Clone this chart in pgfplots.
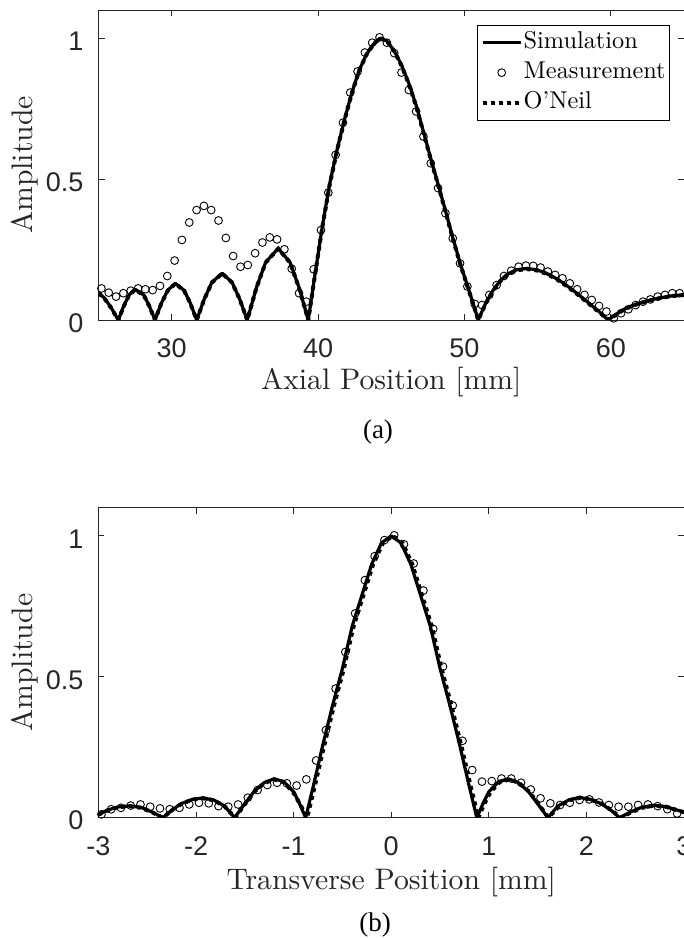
\documentclass[border=0pt]{standalone}
\usepackage{fontspec}
\setmainfont{lmroman10-regular.otf}
\usepackage{pgfplots}
\pgfplotsset{compat=1.18}
\newfontfamily\arialfont{Liberation Sans}
\newfontfamily\timesfont{Liberation Serif}
\definecolor{axgray}{gray}{0.15}
\pgfplotsset{
 myax/.style={
  scale only axis, width=585.5pt, height=310pt,
  ymin=0, ymax=1.1, ytick={0,0.5,1}, yticklabels={0,0.5,1},
  axis line style={draw=axgray, line width=0.9pt},
  tick style={draw=axgray, line width=0.9pt},
  major tick length=6pt, tick align=inside,
  xtick pos=both, ytick pos=both,
  xticklabel style={font=\arialfont\fontsize{27}{27}\selectfont, text=axgray, anchor=base, inner sep=0pt, yshift=-38pt},
  yticklabel style={font=\arialfont\fontsize{27}{27}\selectfont, text=axgray, anchor=east, inner sep=0pt, xshift=-15pt, yshift=-3pt},
  label style={font=\fontsize{29.7}{30}\selectfont, text=axgray},
  ylabel style={at={(axis description cs:-0.112,0.5)}, anchor=base},
  clip mode=individual,
 },
 simline/.style={black, line width=3.2pt, line join=round,
   legend image code/.code={\draw[##1] (0pt,0pt) -- (38pt,0pt);}},
 oneil/.style={black, line width=4pt, dash pattern=on 4pt off 4pt,
   legend image code/.code={\draw[##1] (0pt,0pt) -- (38pt,0pt);}},
 meas/.style={only marks, mark=o, mark size=3.9pt, black, line width=0.9pt,
   legend image code/.code={\draw[mark repeat=2, mark phase=2, ##1] plot coordinates {(0pt,0pt) (19pt,0pt) (38pt,0pt)};}},
}
\begin{document}
\begin{tikzpicture}
% ---------------- (a) axial ----------------
\begin{axis}[myax, at={(98.5pt,618pt)}, anchor=south west,
  xmin=25, xmax=65, xtick={30,40,50,60}, xticklabels={30,40,50,60},
  xlabel={Axial Position [mm]}, ylabel={Amplitude},
  xlabel style={at={(axis description cs:0.5,-0.2235)}, anchor=base},
  legend style={at={(axis description cs:0.976,0.952)}, anchor=north east,
    draw=black, line width=0.6pt, fill=white,
    font=\fontsize{24.3}{29}\selectfont, inner xsep=3pt, inner ysep=2.5pt,
    row sep=0pt, column sep=0pt, cells={anchor=west},
    nodes={inner xsep=1pt, inner ysep=3.5pt, text height=17pt, text depth=6pt}},
  legend cell align=left]
\addplot[simline] coordinates {
(25,0.097) (25.4,0.078) (25.85,0.045) (26.35,0) (26.72,0.049) (27.08,0.088) (27.5,0.109) (28.1,0.088) (28.48,0.049) (28.86,0)
(29.29,0.059) (29.72,0.105) (30.25,0.13) (30.85,0.105) (31.28,0.059) (31.71,0) (32.23,0.075) (32.75,0.134) (33.45,0.166) (34.12,0.134)
(34.64,0.075) (35.16,0) (35.79,0.115) (36.42,0.205) (37.28,0.254) (38.08,0.205) (38.7,0.115) (39.33,0) (39.8,0.165) (40.3,0.335)
(40.8,0.485) (41.3,0.605) (41.8,0.71) (42.3,0.805) (42.8,0.885) (43.3,0.942) (43.8,0.98) (44.23,1.0) (44.7,0.99) (45.2,0.955)
(45.7,0.905) (46.2,0.84) (46.7,0.762) (47.2,0.668) (47.7,0.573) (48.2,0.482) (48.7,0.388) (49.2,0.293) (49.7,0.203) (50.2,0.122)
(50.6,0.058) (50.94,0) (51.45,0.06) (51.95,0.105) (52.45,0.14) (52.95,0.163) (53.55,0.178) (54.25,0.183) (54.95,0.178) (55.65,0.165)
(56.35,0.145) (57.05,0.12) (57.75,0.092) (58.45,0.062) (59.15,0.032) (59.82,0) (60.3,0.018) (60.9,0.038) (61.5,0.052) (62.1,0.062)
(62.8,0.072) (63.5,0.08) (64.2,0.086) (65,0.09)};
\addlegendentry{Simulation}
\addplot[meas] coordinates {
(25.2,0.112) (25.7,0.097) (26.2,0.083) (26.7,0.095) (27.2,0.104) (27.7,0.112) (28.2,0.109) (28.7,0.106) (29.2,0.121) (29.7,0.156)
(30.2,0.211) (30.7,0.284) (31.2,0.346) (31.7,0.390) (32.2,0.405) (32.7,0.390) (33.2,0.353) (33.7,0.291) (34.2,0.227) (34.7,0.189)
(35.2,0.195) (35.7,0.237) (36.2,0.275) (36.7,0.293) (37.2,0.286) (37.7,0.251) (38.2,0.182) (38.7,0.095) (39.2,0.065) (39.7,0.180)
(40.2,0.319) (40.7,0.452) (41.2,0.586) (41.7,0.700) (42.2,0.807) (42.7,0.882) (43.2,0.949) (43.7,0.984) (44.2,1.003) (44.7,0.984)
(45.2,0.947) (45.7,0.878) (46.2,0.816) (46.7,0.740) (47.2,0.651) (47.7,0.556) (48.2,0.468) (48.7,0.379) (49.2,0.290) (49.7,0.201)
(50.2,0.119) (50.7,0.057) (51.2,0.053) (51.7,0.089) (52.2,0.124) (52.7,0.156) (53.2,0.175) (53.7,0.189) (54.2,0.193) (54.7,0.192)
(55.2,0.186) (55.7,0.172) (56.2,0.160) (56.7,0.148) (57.2,0.130) (57.7,0.109) (58.2,0.089) (58.7,0.071) (59.2,0.050) (59.7,0.030)
(60.2,0.006) (60.7,0.024) (61.2,0.038) (61.7,0.053) (62.2,0.065) (62.7,0.073) (63.2,0.083) (63.7,0.089) (64.2,0.095) (64.7,0.095)};
\addlegendentry{Measurement}
\addplot[oneil] coordinates {
(25,0.095) (25.4,0.077) (25.85,0.044) (26.35,0) (26.72,0.048) (27.08,0.087) (27.5,0.108) (28.1,0.087) (28.48,0.048) (28.86,0)
(29.29,0.058) (29.72,0.104) (30.25,0.129) (30.85,0.104) (31.28,0.058) (31.71,0) (32.23,0.074) (32.75,0.133) (33.45,0.165) (34.12,0.133)
(34.64,0.074) (35.16,0) (35.79,0.114) (36.42,0.204) (37.28,0.253) (38.08,0.204) (38.7,0.114) (39.33,0) (39.8,0.163) (40.3,0.332)
(40.8,0.482) (41.3,0.602) (41.8,0.708) (42.3,0.803) (42.8,0.884) (43.3,0.941) (43.8,0.979) (44.23,1.0) (44.7,0.99) (45.2,0.954)
(45.7,0.903) (46.2,0.837) (46.7,0.759) (47.2,0.665) (47.7,0.57) (48.2,0.479) (48.7,0.385) (49.2,0.29) (49.7,0.2) (50.2,0.12)
(50.6,0.056) (50.94,0) (51.45,0.058) (51.95,0.103) (52.45,0.138) (52.95,0.161) (53.55,0.176) (54.25,0.181) (54.95,0.176) (55.65,0.163)
(56.35,0.143) (57.05,0.118) (57.75,0.09) (58.45,0.06) (59.15,0.03) (59.82,0) (60.3,0.017) (60.9,0.037) (61.5,0.051) (62.1,0.061)
(62.8,0.071) (63.5,0.079) (64.2,0.085) (65,0.089)};
\addlegendentry{O'Neil}
\end{axis}
% ---------------- (b) transverse ----------------
\begin{axis}[myax, at={(98.5pt,120.3pt)}, anchor=south west,
  xmin=-3, xmax=3, xtick={-3,-2,-1,0,1,2,3}, xticklabels={-3,-2,-1,0,1,2,3},
  xlabel={Transverse Position [mm]}, ylabel={Amplitude},
  xlabel style={at={(axis description cs:0.5,-0.233)}, anchor=base}]
\addplot[simline] coordinates {
(-3,0.012) (-2.9,0.028) (-2.8,0.038) (-2.68,0.042) (-2.56,0.036) (-2.45,0.02) (-2.34,0) (-2.25,0.027) (-2.15,0.05) (-2.04,0.065)
(-1.93,0.07) (-1.82,0.063) (-1.71,0.042) (-1.605,0) (-1.5,0.05) (-1.4,0.095) (-1.3,0.125) (-1.2,0.138) (-1.1,0.128) (-1.0,0.092)
(-0.94,0.05) (-0.877,0) (-0.8,0.11) (-0.7,0.26) (-0.6,0.4) (-0.5,0.53) (-0.4,0.68) (-0.3,0.79) (-0.2,0.9) (-0.1,0.975)
(0,1) (0.1,0.975) (0.2,0.9) (0.3,0.79) (0.4,0.68) (0.5,0.53) (0.6,0.4) (0.7,0.26) (0.8,0.11) (0.877,0)
(0.94,0.05) (1.0,0.092) (1.1,0.128) (1.2,0.138) (1.3,0.125) (1.4,0.095) (1.5,0.05) (1.605,0) (1.71,0.042) (1.82,0.063)
(1.93,0.072) (2.04,0.065) (2.15,0.05) (2.25,0.027) (2.34,0) (2.45,0.02) (2.56,0.036) (2.68,0.044) (2.8,0.04) (2.9,0.03) (3,0.02)};
\addplot[meas] coordinates {
(-2.97,0.012) (-2.87,0.030) (-2.77,0.035) (-2.67,0.043) (-2.57,0.047) (-2.47,0.039) (-2.37,0.033) (-2.27,0.030) (-2.17,0.035) (-2.07,0.047)
(-1.97,0.053) (-1.87,0.051) (-1.77,0.041) (-1.67,0.039) (-1.57,0.047) (-1.47,0.071) (-1.37,0.098) (-1.27,0.116) (-1.17,0.124) (-1.07,0.122)
(-0.97,0.114) (-0.87,0.136) (-0.77,0.203) (-0.67,0.311) (-0.57,0.458) (-0.47,0.588) (-0.37,0.725) (-0.27,0.843) (-0.17,0.928) (-0.07,0.985)
(0.03,1.002) (0.13,0.970) (0.23,0.902) (0.33,0.806) (0.43,0.670) (0.53,0.536) (0.63,0.398) (0.73,0.273) (0.83,0.169) (0.93,0.128)
(1.03,0.130) (1.13,0.139) (1.23,0.139) (1.33,0.124) (1.43,0.100) (1.53,0.069) (1.63,0.051) (1.73,0.045) (1.83,0.053) (1.93,0.063)
(2.03,0.065) (2.13,0.054) (2.23,0.045) (2.33,0.039) (2.43,0.039) (2.53,0.045) (2.63,0.047) (2.73,0.041) (2.83,0.030) (2.93,0.015)};
\addplot[oneil] coordinates {
(-3,0.011) (-2.9,0.027) (-2.8,0.037) (-2.68,0.041) (-2.56,0.035) (-2.45,0.019) (-2.34,0) (-2.25,0.026) (-2.15,0.049) (-2.04,0.064)
(-1.93,0.069) (-1.82,0.062) (-1.71,0.041) (-1.6,0) (-1.5,0.048) (-1.4,0.093) (-1.3,0.123) (-1.2,0.136) (-1.1,0.126) (-1.0,0.088)
(-0.93,0.045) (-0.862,0) (-0.785,0.11) (-0.685,0.26) (-0.585,0.4) (-0.485,0.53) (-0.385,0.68) (-0.285,0.79) (-0.185,0.9) (-0.085,0.975)
(0.015,1) (0.115,0.975) (0.215,0.9) (0.315,0.79) (0.415,0.68) (0.515,0.53) (0.615,0.4) (0.715,0.26) (0.815,0.11) (0.892,0)
(0.955,0.05) (1.015,0.09) (1.11,0.126) (1.21,0.136) (1.31,0.123) (1.41,0.093) (1.51,0.048) (1.61,0) (1.72,0.041) (1.83,0.062)
(1.94,0.071) (2.05,0.064) (2.16,0.049) (2.26,0.026) (2.35,0) (2.46,0.019) (2.57,0.035) (2.69,0.043) (2.81,0.039) (2.91,0.029) (3,0.019)};
\end{axis}
\node[font=\timesfont\fontsize{27}{27}\selectfont, inner sep=0pt] at (378pt,506pt) {(a)};
\node[font=\timesfont\fontsize{27}{27}\selectfont, inner sep=0pt] at (375pt,13pt) {(b)};
\pgfresetboundingbox
\useasboundingbox (0pt,0pt) rectangle (684pt,938pt);
\end{tikzpicture}
\end{document}
